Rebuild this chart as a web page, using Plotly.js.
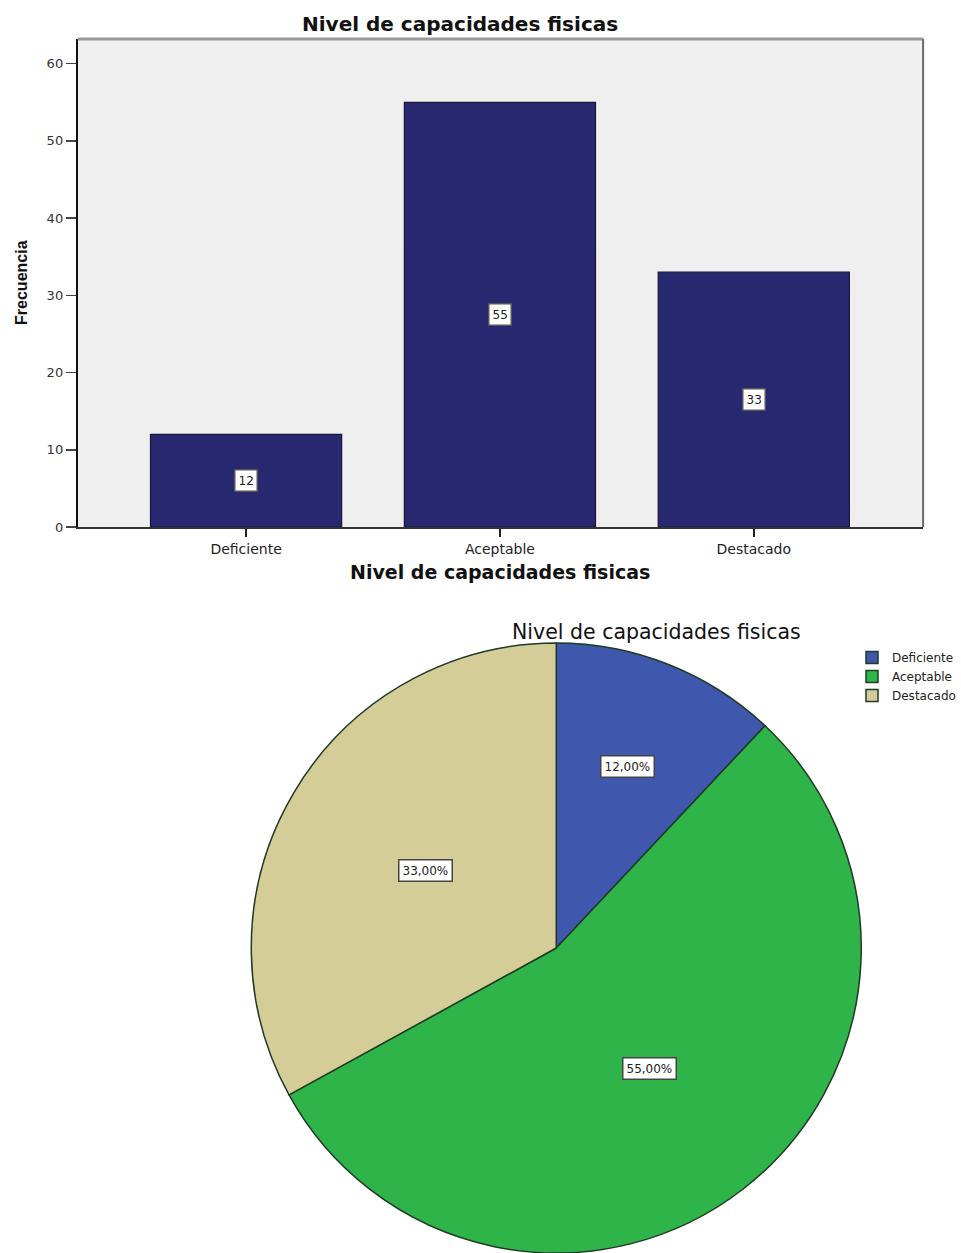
<!DOCTYPE html>
<html>
<head>
<meta charset="utf-8">
<script src="https://cdn.plot.ly/plotly-3.0.1.min.js"></script>
<style>
  html, body { margin: 0; padding: 0; background: #ffffff; overflow: hidden; }
  #chart { width: 961px; height: 1253px; }
</style>
</head>
<body>
<div id="chart"></div>
<script>
// ---- Data ----
const categories = ["Deficiente", "Aceptable", "Destacado"];
const frequencies = [12, 55, 33];
const percentages = [12.00, 55.00, 33.00];
const yTickValues = [0, 10, 20, 30, 40, 50, 60];
const chartTitle = "Nivel de capacidades fisicas";
const yTitle = "Frecuencia";

// ---- Styles ----
const barColor = "#27286f";
const pieColors = ["#3f58ad", "#2fb44a", "#d4cd97"];
const FONT = "DejaVu Sans, Liberation Sans, Arial, sans-serif";
const FONT_NARROW = "Liberation Sans, Arial, sans-serif";

// Pie geometry (paper fractions)
const W = 961, H = 1253;
const pieDomain = { x: [0.2622, 0.8991], y: [0.0, 0.4868] };
const pieCx = (pieDomain.x[0] + pieDomain.x[1]) / 2;
const pieR_px = Math.min((pieDomain.x[1] - pieDomain.x[0]) * W, (pieDomain.y[1] - pieDomain.y[0]) * H) / 2;
const pieCy = pieDomain.y[0] + pieR_px / H;

const fmtPct = v => v.toFixed(2).replace(".", ",") + "%";

const traces = [
  {
    type: "bar",
    x: categories,
    y: frequencies,
    xaxis: "x",
    yaxis: "y",
    width: 0.753,
    marker: { color: barColor, line: { color: "#15163a", width: 1.2 } },
    hoverinfo: "x+y",
    showlegend: false
  },
  {
    type: "pie",
    labels: categories,
    values: percentages,
    sort: false,
    direction: "clockwise",
    rotation: 0,
    domain: pieDomain,
    marker: { colors: pieColors, line: { color: "#1f3a25", width: 1.5 } },
    textinfo: "none",
    hoverinfo: "label+percent",
    showlegend: true
  }
];

// Bar value annotations (white boxes)
const annotations = [];
categories.forEach((c, i) => {
  annotations.push({
    x: c, y: frequencies[i] / 2, xref: "x", yref: "y",
    text: String(frequencies[i]), showarrow: false,
    xanchor: "center", yanchor: "middle",
    bgcolor: "#ffffff", bordercolor: "#555555", borderwidth: 1.5, borderpad: 3,
    font: { family: FONT, size: 12, color: "#222222" }
  });
});

// Pie percentage annotations placed from the data angles
const total = percentages.reduce((a, b) => a + b, 0);
let cum = 0;
percentages.forEach((v, i) => {
  const mid = (cum + v / 2) / total * 2 * Math.PI; // clockwise from 12 o'clock
  cum += v;
  const frac = (v / total) < 0.2 ? 0.64 : 0.5;
  const dx = Math.sin(mid) * pieR_px * frac;
  const dy = Math.cos(mid) * pieR_px * frac;
  annotations.push({
    x: pieCx + dx / W, y: pieCy + dy / H, xref: "paper", yref: "paper",
    xanchor: "center", yanchor: "middle",
    text: fmtPct(v), showarrow: false,
    bgcolor: "#ffffff", bordercolor: "#444444", borderwidth: 1.5, borderpad: 3,
    font: { family: FONT, size: 12, color: "#222222" }
  });
});

// Titles
annotations.push({
  x: 461 / W, y: 1 - 24 / H, xref: "paper", yref: "paper",
  xanchor: "center", yanchor: "middle",
  text: "<b>" + chartTitle + "</b>", showarrow: false,
  font: { family: FONT, size: 20, color: "#111111" }
});
annotations.push({
  x: 659 / W, y: 1 - 632 / H, xref: "paper", yref: "paper",
  xanchor: "center", yanchor: "middle",
  text: chartTitle, showarrow: false,
  font: { family: FONT, size: 20.5, color: "#111111" }
});
annotations.push({
  x: 502 / W, y: 1 - 572 / H, xref: "paper", yref: "paper",
  xanchor: "center", yanchor: "middle",
  text: "<b>" + chartTitle + "</b>", showarrow: false,
  font: { family: FONT, size: 19, color: "#111111" }
});
annotations.push({
  x: 21 / W, y: 1 - 282 / H, xref: "paper", yref: "paper",
  xanchor: "center", yanchor: "middle", textangle: -90,
  text: "<b>" + yTitle + "</b>", showarrow: false,
  font: { family: FONT_NARROW, size: 16, color: "#111111" }
});

const layout = {
  width: W, height: H,
  margin: { l: 0, r: 0, t: 0, b: 0 },
  paper_bgcolor: "#ffffff",
  plot_bgcolor: "#efefef",
  showlegend: true,
  legend: {
    x: 855 / W, y: 1 - 643 / H, xanchor: "left", yanchor: "top",
    font: { family: FONT, size: 12, color: "#222222" },
    bgcolor: "rgba(255,255,255,0)", itemwidth: 30, tracegroupgap: 0
  },
  xaxis: {
    domain: [78 / W, 926 / W],
    anchor: "y",
    range: [-0.663, 2.667],
    showgrid: false, zeroline: false,
    showline: true, linecolor: "#333333", linewidth: 2,
    ticks: "outside", ticklen: 8, tickcolor: "#222222", tickwidth: 1.5,
    tickfont: { family: FONT, size: 14, color: "#222222" },
    fixedrange: true
  },
  yaxis: {
    domain: [1 - 527 / H, 1 - 39 / H],
    anchor: "x",
    range: [0, 63.2],
    tickvals: yTickValues,
    showgrid: false, zeroline: false,
    showline: true, linecolor: "#111111", linewidth: 2,
    ticks: "outside", ticklen: 10, tickcolor: "#444444", tickwidth: 1.5,
    tickfont: { family: FONT, size: 13, color: "#333333" },
    fixedrange: true
  },
  shapes: [
    { type: "line", xref: "x domain", yref: "y domain", x0: 0, x1: 1, y0: 1, y1: 1,
      line: { color: "#9a9a9a", width: 3 } },
    { type: "line", xref: "x domain", yref: "y domain", x0: 1, x1: 1, y0: 0, y1: 1,
      line: { color: "#6a6a6a", width: 2 } }
  ],
  annotations: annotations
};

Plotly.newPlot("chart", traces, layout, { displayModeBar: false, staticPlot: true });
</script>
</body>
</html>
